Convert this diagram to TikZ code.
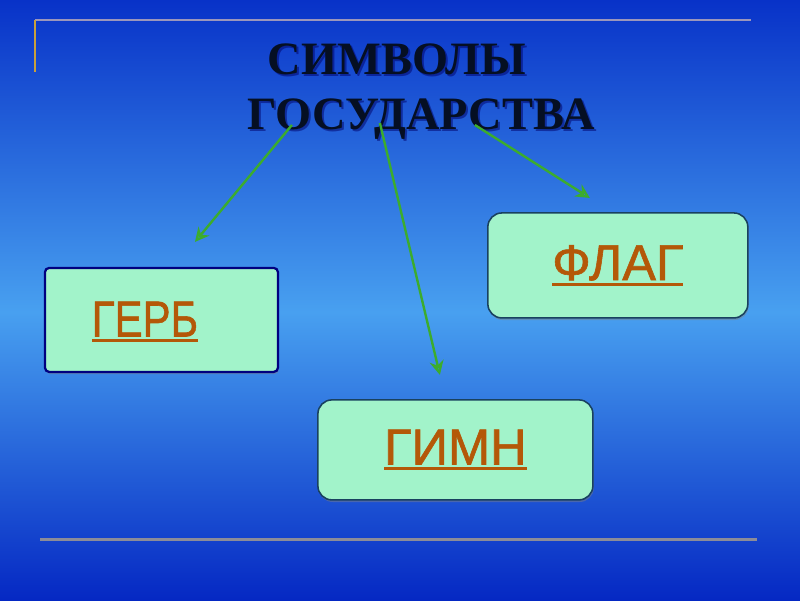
\documentclass[tikz,border=0pt]{standalone}
\usepackage{fontspec}
\setmainfont{Liberation Serif}
\setsansfont{Liberation Sans}
\newfontfamily\lblfont[FakeBold=1.2]{Liberation Sans}
\usetikzlibrary{arrows.meta,shadows}
\definecolor{bgtop}{RGB}{8,50,200}
\definecolor{bgmid}{RGB}{72,160,240}
\definecolor{bgbot}{RGB}{5,40,195}
\definecolor{mint}{RGB}{162,243,202}
\definecolor{boxedge}{RGB}{25,65,95}
\definecolor{labcol}{RGB}{180,88,8}
\definecolor{arrgreen}{RGB}{60,172,45}
\newcommand{\ulword}[1]{\setbox0\hbox{#1}\rlap{\rule[-4pt]{\wd0}{2pt}}\box0}
\tikzset{
  box/.style={draw=boxedge,line width=1.1pt,fill=mint,
    drop shadow={opacity=0.45,shadow xshift=0.6pt,shadow yshift=-1.5pt}},
  lbl/.style={font=\lblfont\fontsize{36}{40}\selectfont,text=labcol},
  ttl/.style={font=\bfseries\fontsize{33}{38}\selectfont,anchor=base,inner sep=0pt},
  link/.style={arrgreen,line width=1.7pt,-{Stealth[open,length=10pt,width=10pt]}}
}
\begin{document}
\begin{tikzpicture}[x=0.025cm,y=-0.025cm]
  \shade[top color=bgtop,bottom color=bgmid] (0cm,0cm) rectangle (20cm,-7.8cm);
  \shade[top color=bgmid,bottom color=bgbot] (0cm,-7.8cm) rectangle (20cm,-15cm);
  \useasboundingbox (0,0) rectangle (800,600);
  \draw[line width=2pt,color={rgb,255:red,155;green,150;blue,188}] (35,20) -- (751,20);
  \draw[line width=1.6pt,color={rgb,255:red,200;green,160;blue,60}] (35,20) -- (35,72);
  \draw[line width=2pt,color={rgb,255:red,140;green,140;blue,152}] (40,540) -- (757,540);
  \node[ttl,text=black!60!blue,opacity=0.5] at (399,77) {СИМВОЛЫ};
  \node[ttl,text=black!60!blue,opacity=0.5] at (423,132) {ГОСУДАРСТВА};
  \node[ttl,text={rgb,255:red,5;green,15;blue,35}] (ttlA) at (397,75) {СИМВОЛЫ};
  \node[ttl,text={rgb,255:red,5;green,15;blue,35}] (ttlB) at (421,130) {ГОСУДАРСТВА};
  \node[box,rounded corners=3pt,draw=blue!50!black,line width=1.6pt,
    minimum width=5.825cm,minimum height=2.6cm] (gerb) at (161.5,320) {};
  \node[lbl] (gerbtxt) at (145,322) {\scalebox{0.83}[1]{\ulword{ГЕРБ}}};
  \node[box,rounded corners=10pt,minimum width=6.5cm,minimum height=2.625cm,lbl] (flag) at (618,265.5) {\ulword{ФЛАГ}};
  \node[box,rounded corners=10pt,minimum width=6.875cm,minimum height=2.5cm,lbl] (gimn) at (455.5,450) {\ulword{ГИМН}};
  \coordinate (sA) at (292,125);
  \coordinate (sB) at (380,123);
  \coordinate (sC) at (475,125);
  \coordinate (eA) at (195,242);
  \coordinate (eB) at (440,375);
  \coordinate (eC) at (590,198);
  \draw[link] (sA) -- (eA);
  \draw[link] (sB) -- (eB);
  \draw[link] (sC) -- (eC);
\end{tikzpicture}
\end{document}
